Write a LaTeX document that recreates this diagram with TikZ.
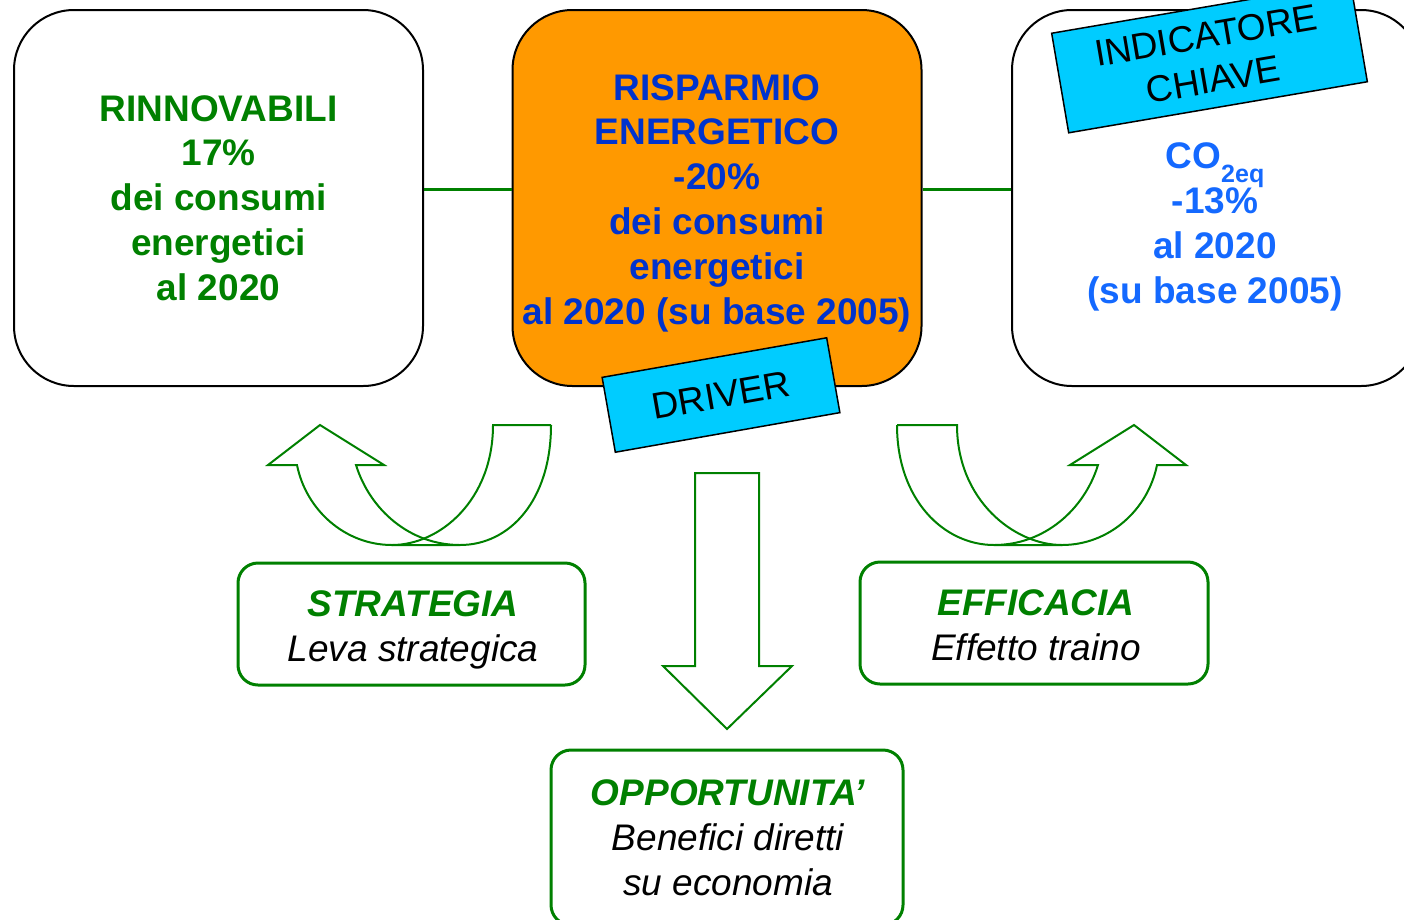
\documentclass[tikz,border=0pt]{standalone}
\usepackage{fontspec}
\setmainfont{Liberation Sans}
\usepackage{tikz}

\definecolor{leafgreen}{RGB}{0,128,0}
\definecolor{deepblue}{RGB}{0,51,204}
\definecolor{brightblue}{RGB}{20,105,255}
\definecolor{tagcyan}{RGB}{0,204,255}
\definecolor{boxorange}{RGB}{255,153,0}
\newcommand{\bigtext}{\fontsize{37}{44.8}\selectfont}

\begin{document}
\begin{tikzpicture}[x=1pt, y=-1pt,
  bigbox/.style={draw, line width=2pt, rounded corners=60pt, minimum width=409pt,
                 minimum height=376pt, inner sep=0pt},
  bigtxt/.style={align=center, font=\bigtext\bfseries},
  tag/.style={draw=black, line width=1.5pt, fill=tagcyan, inner sep=0pt,
              align=center, font=\bigtext, rotate=10},
  greenbox/.style={draw=leafgreen, line width=3pt, rounded corners=20pt, inner sep=0pt},
  greentxt/.style={align=center, font=\bigtext\itshape},
  arrowline/.style={draw=leafgreen, line width=2pt},
  link/.style={leafgreen, line width=3pt}]

%\draw[help lines,step=50] (0,0) grid (1404,919);
\useasboundingbox (0,0) rectangle (1404,919);
\clip (0,0) rectangle (1404,919);

\node[bigbox] (rinn) at (218.5,198) {};
\node[bigbox, fill=boxorange] (risp) at (717,198) {};
\node[bigbox] (ind) at (1216.5,198) {};

\node[bigtxt, text=leafgreen] (rinntxt) at (218.5,198)
     {RINNOVABILI\\17\%\\dei consumi\\energetici\\al 2020};
\node[bigtxt, text=deepblue] (risptxt) at (717,203)
     {RISPARMIO\\ENERGETICO\\-20\%\\dei consumi\\energetici\\al 2020 (su base 2005)};
\node[bigtxt, text=brightblue] (co2) at (1215,227)
     {CO\raisebox{-14pt}[0pt][0pt]{\fontsize{25}{25}\selectfont 2eq}\\-13\%\\al 2020\\(su base 2005)};

\draw[link] ([yshift=9pt]rinn.east) -- ([yshift=9pt]risp.west);
\draw[link] ([yshift=9pt]risp.east) -- ([yshift=9pt]ind.west);

\node[tag, minimum width=303pt, minimum height=101pt, rotate=-0.3] (key) at (1209.5,57.5)
     {INDICATORE\\CHIAVE};
\node[tag, minimum width=228pt, minimum height=76pt] (drv) at (721,395) {DRIVER};

% curved arrow, left
\draw[arrowline] (551,425) .. controls (551,500) and (510,545) .. (460,545) -- (392,545)
                 .. controls (345,545) and (306,510) .. (297,465) -- (268,465) -- (320,425)
                 -- (384,465) -- (356,465) .. controls (370,510) and (410,545) .. (460,545);
\draw[arrowline] (551,425) -- (493,425) .. controls (493,500) and (440,545) .. (392,545);

% curved arrow, right
\draw[arrowline] (897,425) .. controls (897,500) and (944,545) .. (994,545) -- (1062,545)
                 .. controls (1109,545) and (1148,510) .. (1157,465) -- (1186,465) -- (1134,425)
                 -- (1070,465) -- (1098,465) .. controls (1084,510) and (1044,545) .. (994,545);
\draw[arrowline] (897,425) -- (957,425) .. controls (957,500) and (1014,545) .. (1062,545);

% straight arrow down
\draw[arrowline] (695,473) -- (759,473) -- (759,666) -- (792,666) -- (727,729)
                 -- (663,666) -- (695,666) -- cycle;

\node[greenbox, minimum width=347pt, minimum height=122pt] (strat) at (411.5,624) {};
\node[greenbox, minimum width=348pt, minimum height=122pt] (effi) at (1034,623) {};
\node[greenbox, minimum width=352pt, minimum height=175pt] (oppo) at (727,837.5) {};

\node[greentxt] (strattxt) at (413,630)
     {\textcolor{leafgreen}{\bfseries STRATEGIA}\\Leva strategica};
\node[greentxt] (effitxt) at (1036,625)
     {\textcolor{leafgreen}{\bfseries EFFICACIA}\\Effetto traino};
\node[greentxt] (oppotxt) at (728,837.5)
     {\textcolor{leafgreen}{\bfseries OPPORTUNITA’}\\Benefici diretti\\su economia};

\end{tikzpicture}
\end{document}
